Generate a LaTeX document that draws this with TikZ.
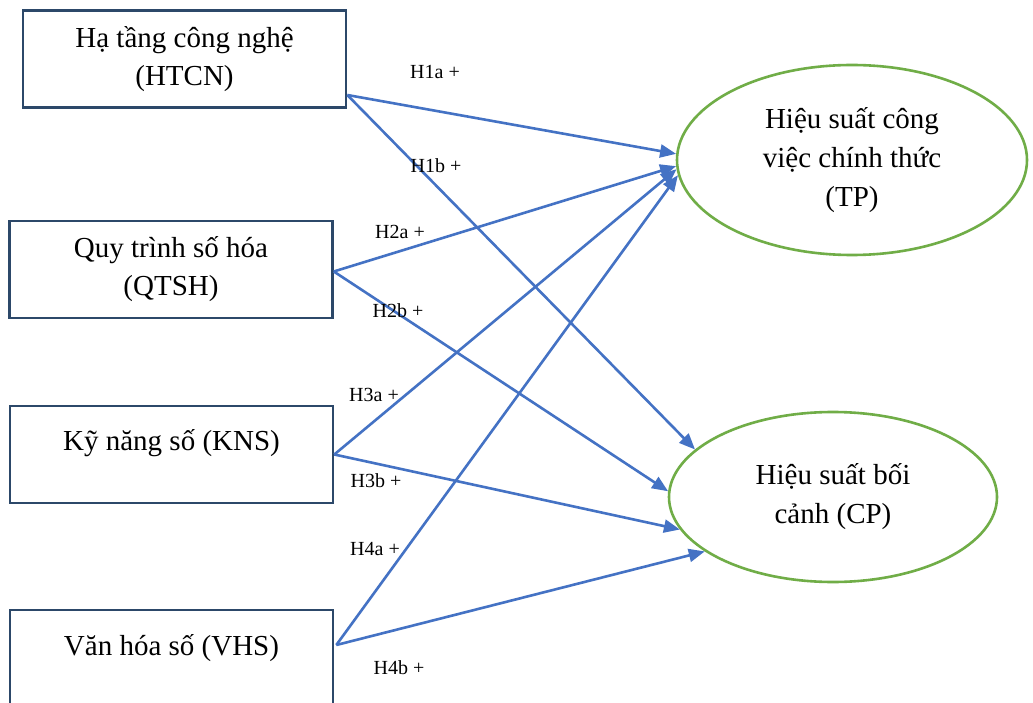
\documentclass[tikz,border=0pt]{standalone}
\usepackage{fontspec}
\setmainfont{Liberation Serif}
\usetikzlibrary{arrows.meta,shapes.geometric,calc}
\definecolor{boxc}{RGB}{44,72,105}
\definecolor{arrc}{RGB}{68,114,196}
\definecolor{ellc}{RGB}{112,173,71}
\begin{document}
\begin{tikzpicture}[x=1pt,y=-1pt,
  box/.style={draw=boxc,line width=2.6pt,minimum width=323pt,minimum height=97pt,inner sep=0pt,align=center,font=\fontsize{29}{38}\selectfont},
  txt/.style={inner sep=0pt,align=center,font=\fontsize{29}{38}\selectfont},
  ell/.style={ellipse,draw=ellc,line width=2.6pt,inner sep=0pt,align=center,font=\fontsize{29}{39}\selectfont},
  arr/.style={draw=arrc,line width=2.6pt,-{Triangle[length=16pt,width=13pt]}},
  lab/.style={inner sep=0pt,font=\fontsize{20}{24}\selectfont}
]
\useasboundingbox (0,0) rectangle (1033,703);
\clip (0,0) rectangle (1033,703);
\fill[white] (0,0) rectangle (1033,703);

% source boxes
\node[box] (htcn) at (184.5,59) {Hạ tầng công nghệ\\(HTCN)};
\node[box] (qtsh) at (171,269.5) {Quy trình số hóa\\(QTSH)};
\node[box] (kns) at (171.5,454.5) {};
\node[txt] (knsT) at (171.5,443) {Kỹ năng số (KNS)};
\node[box,minimum height=110pt] (vhs) at (171.5,665) {};
\node[txt] (vhsT) at (171.5,648) {Văn hóa số (VHS)};

% outcome ellipses
\node[ell,minimum width=350pt,minimum height=190pt] (tp) at (852,160) {Hiệu suất công\\việc chính thức\\(TP)};
\node[ell,minimum width=328pt,minimum height=170pt] (cp) at (833,497) {Hiệu suất bối\\cảnh (CP)};

% ports
\coordinate (s1) at ($(htcn.east)+(0,36)$);
\coordinate (s2) at ($(qtsh.east)+(0,2)$);
\coordinate (s3) at ($(kns.east)+(0,0)$);
\coordinate (s4) at ($(vhs.east)+(2,-20)$);

% connectors
\draw[arr] (s1) -- (tp.178);
\draw[arr] (s1) -- (cp.161.4);
\draw[arr] (s2) -- (tp.182);
\draw[arr] (s2) -- (cp.178);
\draw[arr] (s3) -- (tp.183.5);
\draw[arr] (s3) -- (cp.192.3);
\draw[arr] (s4) -- (tp.185);
\draw[arr] (s4) -- (cp.203.7);

% labels
\node[lab] (l1a) at (435,72) {H1a +};
\node[lab] (l1b) at (436,166) {H1b +};
\node[lab] (l2a) at (400,232) {H2a +};
\node[lab] (l2b) at (398,311) {H2b +};
\node[lab] (l3a) at (374,395) {H3a +};
\node[lab] (l3b) at (376,481) {H3b +};
\node[lab] (l4a) at (375,549) {H4a +};
\node[lab] (l4b) at (399,668) {H4b +};
\end{tikzpicture}
\end{document}
